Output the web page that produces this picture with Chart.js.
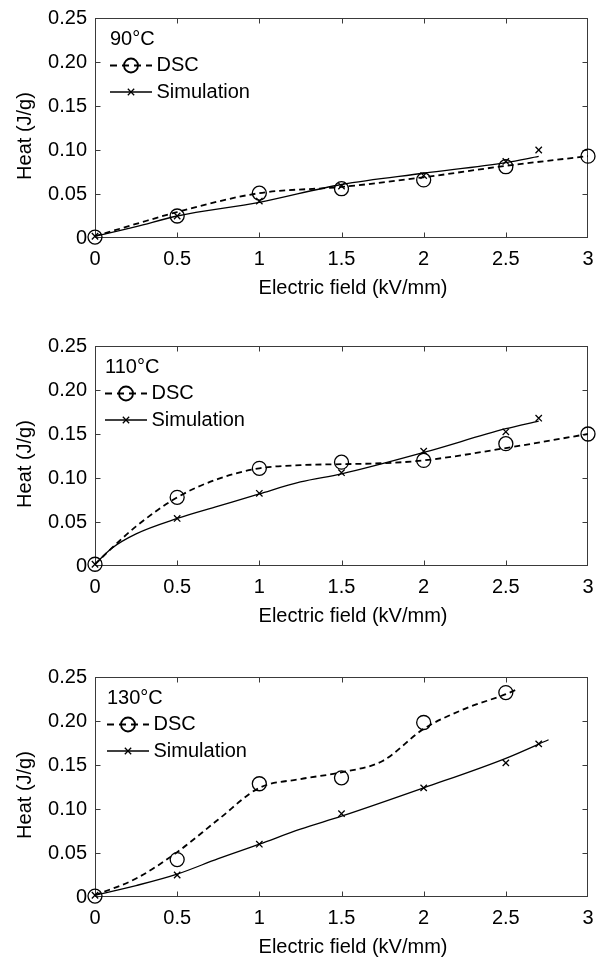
<!DOCTYPE html>
<html>
<head>
<meta charset="utf-8">
<script src="https://cdn.jsdelivr.net/npm/chart.js@4.4.1/dist/chart.umd.min.js"></script>
<style>
  html, body { margin: 0; background: #fff; }
  body { width: 608px; height: 958px; position: relative; overflow: hidden; }
  .panel { position: absolute; left: 0; width: 608px; height: 320px; }
</style>
</head>
<body>
<div class="panel" style="top:0px"><canvas id="c90" width="608" height="320"></canvas></div>
<div class="panel" style="top:328px"><canvas id="c110" width="608" height="320"></canvas></div>
<div class="panel" style="top:659px"><canvas id="c130" width="608" height="320"></canvas></div>
<script>
const X_TICKS = [0, 0.5, 1, 1.5, 2, 2.5, 3];
const X_TICK_LABELS = ['0', '0.5', '1', '1.5', '2', '2.5', '3'];
const Y_TICKS = [0, 0.05, 0.10, 0.15, 0.20, 0.25];
const Y_TICK_LABELS = ['0', '0.05', '0.10', '0.15', '0.20', '0.25'];

// measured points (kV/mm -> J/g)
const SIM_FIELD = [0, 0.5, 1, 1.5, 2, 2.5, 2.7];

const DSC_FIELD_90 = [0, 0.5, 1, 1.5, 2, 2.5, 3];
const DSC_90 = [0.001, 0.025, 0.051, 0.056, 0.066, 0.081, 0.093];
const SIM_90 = [0.002, 0.025, 0.042, 0.059, 0.071, 0.087, 0.100];
const DSC_FIT_FIELD_90 = [0, 0.25, 0.5, 1, 1.5, 2, 2.5, 3];
const DSC_FIT_90 = [0.002, 0.016, 0.0295, 0.051, 0.058, 0.069, 0.082, 0.093];
const SIM_FIT_FIELD_90 = [0, 0.25, 0.5, 1, 1.5, 2, 2.5, 2.7];
const SIM_FIT_90 = [0.002, 0.013, 0.025, 0.0405, 0.0608, 0.0736, 0.0857, 0.0927];

const DSC_FIELD_110 = [0, 0.5, 1, 1.5, 2, 2.5, 3];
const DSC_110 = [0.002, 0.078, 0.111, 0.118, 0.120, 0.139, 0.150];
const SIM_110 = [0.002, 0.054, 0.0826, 0.106, 0.1305, 0.1525, 0.168];
const DSC_FIT_FIELD_110 = [0, 0.1, 0.25, 0.5, 0.75, 1, 1.25, 1.5, 1.75, 2, 2.5, 3];
const DSC_FIT_110 = [0.002, 0.020, 0.045, 0.078, 0.099, 0.111, 0.1146, 0.1157, 0.1168, 0.120, 0.134, 0.150];
const SIM_FIT_FIELD_110 = [0, 0.1, 0.25, 0.5, 0.75, 1, 1.25, 1.5, 2, 2.5, 2.7];
const SIM_FIT_110 = [0.002, 0.020, 0.0366, 0.054, 0.068, 0.082, 0.0955, 0.1047, 0.129, 0.156, 0.1647];

const DSC_FIELD_130 = [0, 0.5, 1, 1.5, 2, 2.5];
const DSC_130 = [0.001, 0.0425, 0.1287, 0.1354, 0.1983, 0.2323];
const SIM_130 = [0.002, 0.025, 0.060, 0.0947, 0.124, 0.1524, 0.174];
const DSC_FIT_FIELD_130 = [0, 0.25, 0.5, 0.75, 1, 1.25, 1.5, 1.75, 2, 2.25, 2.5, 2.56];
const DSC_FIT_130 = [0.002, 0.021, 0.051, 0.088, 0.124, 0.134, 0.1417, 0.1546, 0.191, 0.2138, 0.2305, 0.2353];
const SIM_FIT_FIELD_130 = [0, 0.25, 0.5, 0.75, 1, 1.25, 1.5, 2, 2.5, 2.76];
const SIM_FIT_130 = [0.002, 0.013, 0.026, 0.0436, 0.060, 0.077, 0.0918, 0.124, 0.1576, 0.1787];

const FONT = "'Liberation Sans', Arial, sans-serif";
const pts = (xs, ys) => xs.map((x, i) => ({ x, y: ys[i] }));

// box, inward ticks, axis titles and legend
const panelDecor = {
  id: 'panelDecor',
  beforeDatasetsDraw(chart, args, opts) {
    const { ctx, chartArea: a, scales: { x, y } } = chart;
    const L = Math.round(a.left) + 0.5, R = Math.round(a.right) - 0.5;
    const T = Math.round(a.top) + 0.5, B = Math.round(a.bottom) - 0.5;
    ctx.save();
    ctx.strokeStyle = '#3a3a3a';
    ctx.lineWidth = 1;
    ctx.strokeRect(L, T, R - L, B - T);
    ctx.beginPath();
    X_TICKS.slice(1, -1).forEach(v => {
      const px = Math.round(x.getPixelForValue(v)) + 0.5;
      ctx.moveTo(px, B); ctx.lineTo(px, B - 5);
      ctx.moveTo(px, T); ctx.lineTo(px, T + 5);
    });
    Y_TICKS.slice(1, -1).forEach(v => {
      const py = Math.round(y.getPixelForValue(v)) + 0.5;
      ctx.moveTo(L, py); ctx.lineTo(L + 5, py);
      ctx.moveTo(R, py); ctx.lineTo(R - 5, py);
    });
    ctx.stroke();
    ctx.restore();
  },
  afterDraw(chart, args, opts) {
    const { ctx, chartArea: a } = chart;
    ctx.save();
    ctx.fillStyle = '#000';
    ctx.font = '20px ' + FONT;
    ctx.textBaseline = 'middle';

    ctx.textAlign = 'center';
    ctx.fillText('Electric field (kV/mm)', 353, a.bottom + 50.5);
    ctx.save();
    ctx.translate(25, (a.top + a.bottom) / 2 + 8);
    ctx.rotate(-Math.PI / 2);
    ctx.fillText('Heat (J/g)', 0, 0);
    ctx.restore();

    // legend
    const lx = opts.legendX;
    ctx.textAlign = 'left';
    ctx.fillText(opts.temp, lx, a.top + 21.5);
    const rows = [
      { y: a.top + 47.5, label: 'DSC', dash: [7, 5], width: 1.8, point: { pointStyle: 'circle', radius: 7, borderWidth: 1.3 } },
      { y: a.top + 74, label: 'Simulation', dash: [], width: 1.3, point: { pointStyle: 'crossRot', radius: 4.5, borderWidth: 1.3 } },
    ];
    rows.forEach(r => {
      ctx.strokeStyle = '#000';
      ctx.lineWidth = r.width;
      ctx.setLineDash(r.dash);
      ctx.beginPath();
      ctx.moveTo(lx, r.y); ctx.lineTo(lx + 42, r.y);
      ctx.stroke();
      ctx.setLineDash([]);
      ctx.fillStyle = 'rgba(0,0,0,0)';
      Chart.helpers.drawPoint(ctx, r.point, lx + 21, r.y);
      ctx.fillStyle = '#000';
      ctx.fillText(r.label, lx + 46.5, r.y);
    });
    ctx.restore();
  }
};

function makePanel(id, temp, legendX, dscX, dscY, simY, dscFitX, dscFitY, simFitX, simFitY) {
  return new Chart(document.getElementById(id), {
    type: 'line',
    data: {
      datasets: [
        { data: pts(dscFitX, dscFitY), borderColor: '#000', borderWidth: 1.8, borderDash: [6, 4],
          pointRadius: 0, cubicInterpolationMode: 'monotone', fill: false },
        { data: pts(simFitX, simFitY), borderColor: '#000', borderWidth: 1.3,
          pointRadius: 0, cubicInterpolationMode: 'monotone', fill: false },
        { data: pts(dscX, dscY), showLine: false, pointStyle: 'circle', pointRadius: 7,
          pointBorderWidth: 1.3, pointBorderColor: '#000', pointBackgroundColor: 'rgba(0,0,0,0)', clip: false },
        { data: pts(SIM_FIELD, simY), showLine: false, pointStyle: 'crossRot', pointRadius: 4.5,
          pointBorderWidth: 1.3, pointBorderColor: '#000', pointBackgroundColor: 'rgba(0,0,0,0)', clip: false },
      ],
    },
    options: {
      responsive: false,
      animation: false,
      events: [],
      layout: { padding: { top: 12, right: 20, bottom: 0, left: 0 } },
      plugins: {
        legend: { display: false },
        tooltip: { enabled: false },
        panelDecor: { temp, legendX },
      },
      scales: {
        x: {
          type: 'linear', min: 0, max: 3,
          afterBuildTicks: s => { s.ticks = X_TICKS.map(v => ({ value: v })); },
          afterFit: s => { s.height = 82; },
          grid: { display: false, drawTicks: false },
          border: { display: false },
          ticks: { autoSkip: false, maxRotation: 0, padding: 9.5, color: '#000',
                   font: { family: FONT, size: 20 }, callback: (v, i) => X_TICK_LABELS[i] },
        },
        y: {
          type: 'linear', min: 0, max: 0.25,
          afterBuildTicks: s => { s.ticks = Y_TICKS.map(v => ({ value: v })); },
          afterFit: s => { s.width = 95; },
          grid: { display: false, drawTicks: false },
          border: { display: false },
          ticks: { padding: 8, color: '#000', font: { family: FONT, size: 20, lineHeight: 1 },
                   callback: (v, i) => Y_TICK_LABELS[i] },
        },
      },
    },
    plugins: [panelDecor],
  });
}

makePanel('c90', '90°C', 110, DSC_FIELD_90, DSC_90, SIM_90, DSC_FIT_FIELD_90, DSC_FIT_90, SIM_FIT_FIELD_90, SIM_FIT_90);
makePanel('c110', '110°C', 105, DSC_FIELD_110, DSC_110, SIM_110, DSC_FIT_FIELD_110, DSC_FIT_110, SIM_FIT_FIELD_110, SIM_FIT_110);
makePanel('c130', '130°C', 107, DSC_FIELD_130, DSC_130, SIM_130, DSC_FIT_FIELD_130, DSC_FIT_130, SIM_FIT_FIELD_130, SIM_FIT_130);
</script>
</body>
</html>
